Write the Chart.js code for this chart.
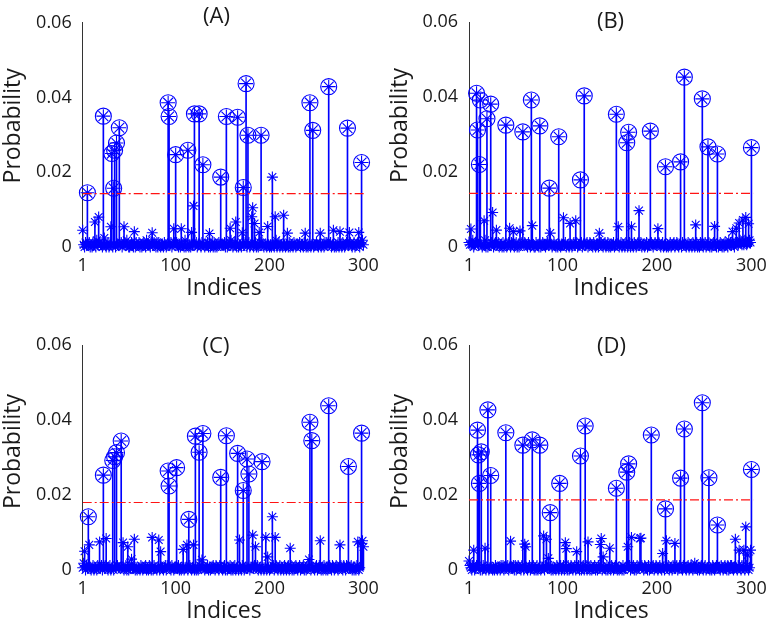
<!DOCTYPE html>
<html>
<head>
<meta charset="utf-8">
<script src="https://cdn.jsdelivr.net/npm/chart.js@4.4.1/dist/chart.umd.min.js"></script>
<style>
html, body { margin: 0; padding: 0; background: #fff; overflow: hidden; width: 775px; height: 625px; }
canvas { position: absolute; }
</style>
</head>
<body>
<canvas id="panelA" width="387" height="310" style="left:0px;top:0px"></canvas>
<canvas id="panelB" width="388" height="310" style="left:387px;top:0px"></canvas>
<canvas id="panelC" width="387" height="315" style="left:0px;top:310px"></canvas>
<canvas id="panelD" width="388" height="315" style="left:387px;top:310px"></canvas>
<script>
/* Wspólne ustawienia */
var FONT = "'Open Sans', sans-serif";
var BLUE = '#0000ff';
var TEXT = '#1a1a1a';
var LOW_UNIT = 0.0006;
var xTicks = [1, 100, 200, 300];

/* (A) - tło (w jednostkach LOW_UNIT), średnie gwiazdki, piki w kółkach, próg */
var lowA = [
  3,1,0,2,1,0,1,2,0,1, 0,2,1,1,0,3,1,0,2,1, 1,0,2,4,1,0,1,2,0,1, 2,1,0,1,3,0,2,1,1,0,
  1,2,0,1,0,2,1,3,1,0, 0,1,2,1,0,1,0,2,1,1, 2,0,1,0,1,2,1,0,3,1, 1,1,0,2,0,1,2,1,0,2,
  0,2,1,0,1,1,0,2,1,0, 1,0,3,1,2,0,1,0,2,1, 2,1,0,1,0,2,1,1,0,3, 0,1,2,0,1,0,2,1,1,0,
  1,2,0,1,3,1,0,2,0,1, 0,1,1,2,0,1,0,1,2,0, 2,0,1,0,1,2,1,0,1,1, 1,2,0,1,0,1,2,0,3,1,
  0,1,2,1,0,2,0,1,1,0, 1,0,1,2,1,0,1,2,0,1, 2,1,0,1,2,0,1,0,1,2, 0,2,1,0,1,1,0,2,1,0,
  1,0,2,1,0,1,3,0,1,2, 0,1,1,0,2,1,0,1,2,0, 2,0,1,1,0,2,1,0,1,1, 1,2,0,1,1,0,2,1,0,1,
  0,1,2,0,1,2,0,1,1,2, 1,0,1,2,0,1,1,0,2,1, 2,1,0,1,2,0,1,3,0,1, 0,1,2,0,1,1,0,2,1,0,
  1,2,0,1,0,2,1,0,1,2, 0,1,1,2,1,0,2,1,3,1
];
var midA = [
  [1, 0.0045], [14, 0.0067], [18, 0.0080], [31, 0.0054], [45, 0.0054], [56, 0.0041],
  [75, 0.0038], [98, 0.0049], [106, 0.0049], [117, 0.0039], [119, 0.0110], [136, 0.0036],
  [158, 0.0050], [164, 0.0067], [171, 0.0038], [181, 0.0081], [182, 0.0105], [184, 0.0063],
  [189, 0.0039], [198, 0.0055], [203, 0.0187], [206, 0.0081], [215, 0.0085], [219, 0.0037],
  [238, 0.0037], [254, 0.0037], [268, 0.0045], [275, 0.0041], [285, 0.0039], [295, 0.0039]
];
var peakA = [
  [6, 0.0145], [23, 0.0350], [32, 0.0250], [34, 0.0157], [35, 0.0259], [37, 0.0278],
  [40, 0.0319], [92, 0.0386], [93, 0.0349], [100, 0.0247], [113, 0.0259], [120, 0.0356],
  [125, 0.0356], [129, 0.0220], [148, 0.0187], [154, 0.0349], [166, 0.0347], [172, 0.0159],
  [175, 0.0437], [177, 0.0299], [191, 0.0299], [243, 0.0386], [246, 0.0312], [263, 0.0429],
  [283, 0.0318], [298, 0.0226]
];
var threshA = 0.0143;

/* (B) */
var lowB = [
  2,1,0,1,3,0,1,2,1,0, 1,0,2,1,0,1,1,3,0,2, 0,1,1,0,2,1,0,1,2,1, 1,2,0,1,1,0,2,0,1,1,
  0,1,2,1,0,2,1,1,0,1, 2,0,1,0,1,1,2,0,1,2, 1,1,0,2,1,0,1,2,1,0, 0,2,1,1,0,1,0,1,2,1,
  1,0,1,2,1,0,2,1,0,1, 2,1,0,1,0,2,1,0,1,1, 0,1,2,0,1,1,0,2,1,0, 1,2,1,0,2,0,1,1,0,2,
  0,1,0,1,1,2,0,1,2,1, 1,0,2,1,0,1,1,0,1,2, 2,1,0,1,2,0,1,2,0,1, 0,1,1,2,0,1,0,1,1,0,
  1,2,0,1,1,0,2,1,0,1, 2,0,1,1,0,2,1,0,1,2, 0,1,2,0,1,1,0,1,2,0, 1,1,0,2,1,0,1,2,1,1,
  0,2,1,0,1,2,0,1,1,0, 1,0,1,2,0,1,1,2,0,1, 2,1,0,1,1,0,2,1,3,1, 0,1,2,0,1,1,0,2,1,0,
  1,2,0,1,0,2,1,1,0,1, 2,0,1,1,2,0,1,0,1,2, 1,1,0,2,0,1,2,1,0,1, 0,2,1,1,0,3,1,2,1,2,
  1,0,2,1,2,1,0,3,2,1, 2,1,3,2,1,2,1,3,2,3
];
var midB = [
  [3, 0.0048], [17, 0.0070], [26, 0.0092], [30, 0.0045], [44, 0.0050], [48, 0.0041],
  [55, 0.0043], [68, 0.0057], [87, 0.0037], [101, 0.0078], [108, 0.0063], [114, 0.0070],
  [139, 0.0037], [159, 0.0054], [173, 0.0054], [181, 0.0097], [201, 0.0049], [241, 0.0059],
  [261, 0.0055], [280, 0.0041], [284, 0.0050], [287, 0.0064], [291, 0.0072], [294, 0.0079],
  [297, 0.0062]
];
var peakB = [
  [9, 0.0410], [10, 0.0312], [12, 0.0220], [13, 0.0392], [20, 0.0342], [24, 0.0381],
  [40, 0.0325], [58, 0.0307], [67, 0.0392], [76, 0.0323], [86, 0.0157], [96, 0.0294],
  [119, 0.0179], [123, 0.0403], [157, 0.0354], [168, 0.0278], [170, 0.0306], [193, 0.0309],
  [209, 0.0214], [225, 0.0227], [229, 0.0453], [248, 0.0395], [254, 0.0267], [264, 0.0248],
  [300, 0.0265]
];
var threshB = 0.0143;

/* (C) */
var lowC = [
  1,3,1,0,2,1,0,2,1,0, 1,2,0,1,1,0,2,1,0,1, 2,0,1,1,2,0,1,0,1,2, 0,1,2,0,1,1,0,2,1,1,
  1,0,1,2,0,1,2,0,1,0, 2,1,0,1,1,2,0,1,0,1, 1,0,2,1,0,1,1,2,0,1, 0,2,1,0,1,0,2,1,1,0,
  1,1,0,2,1,1,0,1,2,0, 2,0,1,1,0,2,1,0,1,1, 0,1,2,0,1,0,1,2,0,1, 1,2,0,1,2,1,0,1,1,0,
  2,0,1,0,1,2,1,0,2,1, 0,1,1,2,0,1,0,1,1,2, 1,0,2,1,1,0,2,0,1,0, 1,2,0,1,0,1,1,2,0,1,
  0,1,2,0,1,2,0,1,1,0, 2,1,0,1,1,0,1,2,0,1, 1,0,1,2,0,1,2,0,1,1, 0,2,1,0,1,1,0,2,1,0,
  1,1,0,2,0,1,2,1,0,1, 2,0,1,1,0,2,1,0,1,2, 0,1,2,0,1,0,1,2,1,0, 1,2,0,1,1,2,0,1,0,1,
  2,0,1,0,2,1,1,0,1,2, 0,1,2,1,0,1,0,2,1,0, 1,0,1,2,1,0,2,1,0,1, 2,1,0,1,0,2,1,0,2,1,
  0,2,1,0,1,1,2,0,1,0, 1,0,2,1,0,1,1,2,1,2
];
var midC = [
  [3, 0.0050], [8, 0.0067], [19, 0.0075], [26, 0.0084], [44, 0.0073], [49, 0.0062],
  [53, 0.0029], [56, 0.0082], [75, 0.0087], [82, 0.0080], [84, 0.0049], [108, 0.0055],
  [112, 0.0067], [119, 0.0067], [128, 0.0027], [168, 0.0080], [182, 0.0093], [185, 0.0062],
  [196, 0.0087], [198, 0.0035], [203, 0.0142], [206, 0.0087], [222, 0.0058], [242, 0.0028],
  [254, 0.0078], [275, 0.0067], [294, 0.0075], [297, 0.0070], [299, 0.0078], [300, 0.0062]
];
var peakC = [
  [7, 0.0142], [23, 0.0253], [33, 0.0292], [35, 0.0302], [37, 0.0313], [42, 0.0344],
  [92, 0.0264], [93, 0.0224], [101, 0.0273], [114, 0.0135], [121, 0.0357], [125, 0.0314],
  [129, 0.0364], [148, 0.0247], [154, 0.0358], [166, 0.0311], [172, 0.0212], [176, 0.0296],
  [178, 0.0256], [192, 0.0289], [243, 0.0394], [245, 0.0345], [263, 0.0438], [284, 0.0276],
  [298, 0.0365]
];
var threshC = 0.0180;

/* (D) */
var lowD = [
  4,2,1,0,2,1,0,1,2,0, 1,2,0,1,0,2,1,1,0,1, 2,0,1,2,1,0,1,0,2,1, 0,1,1,0,2,1,2,0,1,1,
  1,2,0,1,0,1,1,2,0,2, 0,1,2,1,1,0,2,1,0,1, 2,1,0,1,2,0,1,1,2,0, 1,0,2,0,1,2,0,1,1,2,
  0,2,1,1,0,1,2,0,1,0, 1,1,0,2,1,0,1,2,0,1, 2,0,1,1,0,2,0,1,2,1, 0,1,2,0,1,1,2,0,1,0,
  1,2,0,1,2,0,1,1,0,2, 0,1,1,2,0,1,0,2,1,1, 1,0,2,1,1,0,2,0,1,2, 0,2,1,0,1,2,1,0,1,0,
  1,1,0,2,0,1,1,2,0,1, 2,0,1,1,2,0,1,0,2,1, 1,1,0,2,1,0,2,1,1,0, 2,0,1,0,1,2,0,1,2,1,
  0,1,2,1,0,1,1,0,2,1, 1,2,0,1,1,0,2,1,0,1, 2,0,1,2,0,1,0,2,1,1, 0,1,2,0,1,2,1,0,1,3,
  1,2,0,1,0,1,2,1,0,1, 2,0,1,1,2,0,1,0,2,1, 0,1,2,0,1,1,0,2,1,0, 1,2,1,0,2,0,1,2,2,1,
  0,1,2,1,0,2,1,1,0,2, 1,2,0,1,2,1,0,1,2,4
];
var midD = [
  [6, 0.0053], [18, 0.0058], [45, 0.0077], [60, 0.0069], [61, 0.0062], [80, 0.0091],
  [83, 0.0082], [85, 0.0031], [103, 0.0073], [104, 0.0057], [115, 0.0049], [127, 0.0075],
  [140, 0.0068], [141, 0.0084], [143, 0.0035], [150, 0.0058], [169, 0.0062], [173, 0.0087],
  [182, 0.0084], [183, 0.0085], [206, 0.0044], [210, 0.0078], [219, 0.0071], [283, 0.0082],
  [287, 0.0053], [292, 0.0053], [294, 0.0115], [296, 0.0040], [299, 0.0053]
];
var peakD = [
  [10, 0.0373], [11, 0.0307], [12, 0.0231], [14, 0.0315], [21, 0.0427], [24, 0.0252],
  [40, 0.0366], [58, 0.0333], [68, 0.0347], [76, 0.0333], [87, 0.0153], [97, 0.0231],
  [119, 0.0304], [124, 0.0384], [157, 0.0218], [168, 0.0261], [170, 0.0283], [194, 0.0360],
  [209, 0.0163], [225, 0.0245], [229, 0.0376], [248, 0.0446], [255, 0.0246], [264, 0.0120],
  [300, 0.0268]
];
var threshD = 0.0187;

/* Składanie wartości: tło, potem średnie, potem piki */
var buildValues = function (low, mid, peak) {
    var vals = low.map(function (d) { return d * LOW_UNIT; });
    mid.forEach(function (p) { vals[p[0] - 1] = p[1]; });
    peak.forEach(function (p) { vals[p[0] - 1] = p[1]; });
    return vals;
}

/* Tytuł panelu, np. (A) */
var panelTitle = {
    id: 'panelTitle',
    afterDraw: function (chart, args, opts) {
        var ctx = chart.ctx;
        ctx.save();
        ctx.font = '22px ' + FONT;
        ctx.fillStyle = TEXT;
        ctx.textAlign = 'center';
        ctx.textBaseline = 'middle';
        ctx.fillText(opts.text, opts.x, opts.y);
        ctx.restore();
    }
};

var makePanel = function (id, label, low, mid, peak, thresh, geo) {
    var vals = buildValues(low, mid, peak);
    var pts = vals.map(function (v, i) { return { x: i + 1, y: v }; });
    var peakIdx = peak.map(function (p) { return p[0]; });
    var peakPts = peak.map(function (p) { return { x: p[0], y: p[1] }; });

    return new Chart(document.getElementById(id), {
        type: 'scatter',
        data: {
            datasets: [
                {
                    type: 'line',
                    data: [{ x: 1, y: thresh }, { x: 302, y: thresh }],
                    borderColor: 'rgb(255,20,20)',
                    borderWidth: 1.2,
                    borderDash: [9, 3, 2, 3],
                    pointRadius: 0,
                    order: 0
                },
                {
                    data: peakPts,
                    pointStyle: 'circle',
                    pointRadius: 8,
                    borderColor: BLUE,
                    backgroundColor: 'rgba(0,0,0,0)',
                    borderWidth: 1.1,
                    clip: false,
                    order: 1
                },
                {
                    data: pts,
                    pointStyle: 'star',
                    pointRadius: function (c) { return peakIdx.indexOf(c.raw ? c.raw.x : -1) >= 0 ? 7 : 5.5; },
                    borderColor: BLUE,
                    borderWidth: 1.1,
                    clip: false,
                    order: 2
                },
                {
                    type: 'bar',
                    data: pts,
                    backgroundColor: BLUE,
                    barThickness: 1,
                    borderWidth: 0,
                    order: 3
                }
            ]
        },
        options: {
            responsive: false,
            maintainAspectRatio: false,
            animation: false,
            events: [],
            devicePixelRatio: 1,
            layout: { padding: { left: 0, right: geo.right, top: geo.top, bottom: 0 } },
            plugins: {
                legend: { display: false },
                tooltip: { enabled: false },
                panelTitle: { text: label, x: geo.titleX, y: geo.titleY }
            },
            scales: {
                x: {
                    type: 'linear',
                    min: 1,
                    max: 302,
                    offset: false,
                    grid: { display: false, drawTicks: false, offset: false },
                    border: { display: false },
                    afterBuildTicks: function (s) { s.ticks = xTicks.map(function (v) { return { value: v }; }); },
                    afterFit: function (s) { s.height = geo.xHeight; },
                    ticks: { font: { size: 18, family: FONT }, color: TEXT, padding: 8, maxRotation: 0, autoSkip: false },
                    title: { display: true, text: 'Indices', font: { size: 23, family: FONT }, color: TEXT,
                             padding: { top: 0, bottom: geo.xTitlePad } }
                },
                y: {
                    min: 0,
                    max: 0.06,
                    grid: { display: false, drawTicks: false },
                    border: { display: true, color: '#333', width: 1 },
                    afterFit: function (s) { s.width = geo.yWidth; },
                    ticks: { stepSize: 0.02, font: { size: 18, family: FONT }, color: TEXT, padding: 11 },
                    title: { display: true, text: geo.yTitle, font: { size: 23, family: FONT }, color: TEXT,
                             padding: { top: 0, bottom: 0 } }
                }
            }
        },
        plugins: [panelTitle]
    });
}

var chartA = makePanel('panelA', '(A)', lowA, midA, peakA, threshA,
    { yWidth: 82.7, right: 17.45, top: 22.7, xHeight: 63, xTitlePad: 8.2, titleX: 216.5, titleY: 16.7, yTitle: '   Probability' });
var chartB = makePanel('panelB', '(B)', lowB, midB, peakB, threshB,
    { yWidth: 82, right: 20.05, top: 22, xHeight: 63, xTitlePad: 8.2, titleX: 223.5, titleY: 21.5, yTitle: '   Probability' });
var chartC = makePanel('panelC', '(C)', lowC, midC, peakC, threshC,
    { yWidth: 82.7, right: 17.45, top: 35, xHeight: 55, xTitlePad: 0.2, titleX: 216, titleY: 37, yTitle: '  Probability' });
var chartD = makePanel('panelD', '(D)', lowD, midD, peakD, threshD,
    { yWidth: 82, right: 20.05, top: 35, xHeight: 55, xTitlePad: 0.2, titleX: 224.5, titleY: 37, yTitle: '  Probability' });
</script>
</body>
</html>
